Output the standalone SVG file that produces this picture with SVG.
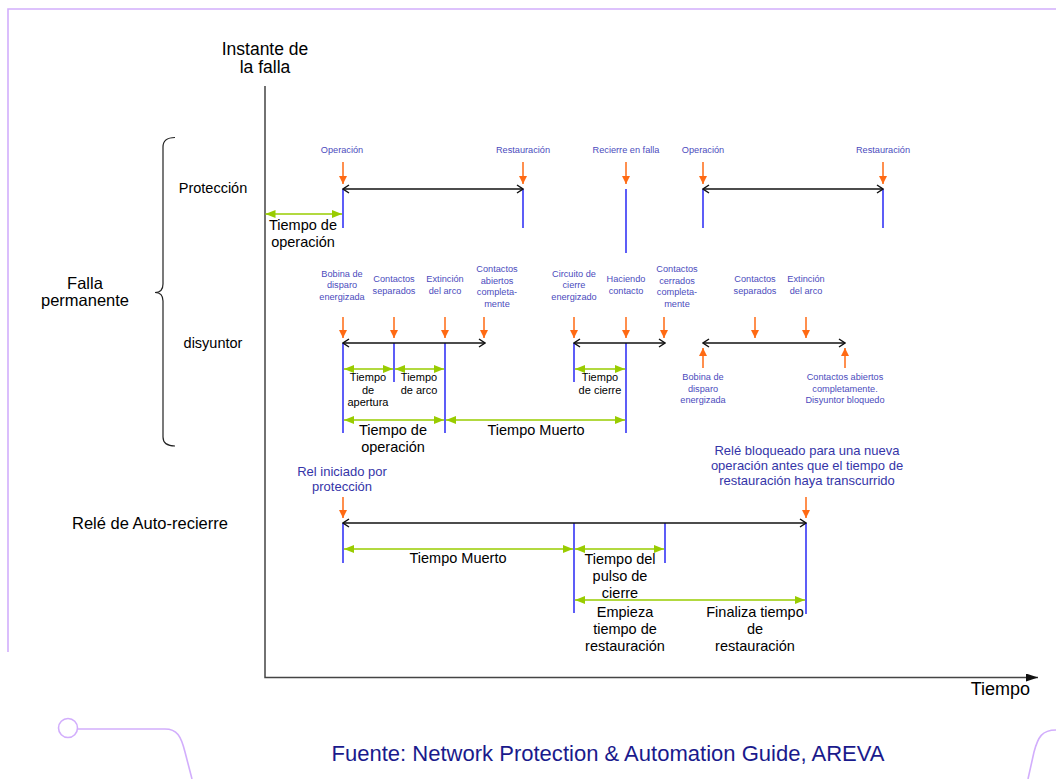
<svg xmlns="http://www.w3.org/2000/svg" width="1056" height="779" viewBox="0 0 1056 779">
  <style>
    text { font-family: "Liberation Sans", Arial, sans-serif; }
    .lbl { font-size: 14.5px; fill: #000; text-anchor: middle; }
    .lbl-s { font-size: 11px; fill: #000; text-anchor: middle; }
    .row { font-size: 14.5px; fill: #000; text-anchor: middle; }
    .ev { font-size: 9.2px; fill: #4b4bbd; text-anchor: middle; }
    .ev-l { font-size: 13px; fill: #3535a8; text-anchor: middle; }
    .mark { stroke: #3535f5; stroke-width: 1.6; fill: none; }
    .span { stroke: #111; stroke-width: 1.5; fill: none; marker-start: url(#ah-open); marker-end: url(#ah-open); }
    .dur { stroke: #99cc00; stroke-width: 1.6; fill: none; marker-start: url(#ah-green); marker-end: url(#ah-green); }
    .trig { stroke: #ff6a13; stroke-width: 1.5; fill: none; marker-end: url(#ah-orange); }
    .frame { stroke: #d2aefc; stroke-width: 1.6; fill: none; }
  </style>
  <defs>
    <marker id="ah-open" viewBox="0 0 8 10" refX="7" refY="5" markerWidth="8" markerHeight="10" markerUnits="userSpaceOnUse" orient="auto-start-reverse">
      <path d="M1,1 L7,5 L1,9" fill="none" stroke="#111" stroke-width="1.5"/>
    </marker>
    <marker id="ah-green" viewBox="0 0 10 8" refX="10" refY="4" markerWidth="10" markerHeight="8" markerUnits="userSpaceOnUse" orient="auto-start-reverse">
      <path d="M0,0 L10,4 L0,8 z" fill="#99cc00"/>
    </marker>
    <marker id="ah-orange" viewBox="0 0 8 8" refX="8" refY="4" markerWidth="8" markerHeight="8" markerUnits="userSpaceOnUse" orient="auto">
      <path d="M0,0 L8,4 L0,8 z" fill="#ff6a13"/>
    </marker>
    <marker id="ah-axis" viewBox="0 0 12 8" refX="12" refY="4" markerWidth="12" markerHeight="8" markerUnits="userSpaceOnUse" orient="auto">
      <path d="M0,0 L12,4 L0,8 z" fill="#111"/>
    </marker>
  </defs>

  <rect width="1056" height="779" fill="#fff"/>

  <!-- page frame and decoration -->
  <g id="frame">
    <path class="frame" d="M1056,9 L8,9 L8,652"/>
    <circle class="frame" cx="68" cy="728" r="9.5"/>
    <path class="frame" d="M77.5,729 L165,729 C177,729 181,736 185,752 L192,779"/>
    <path class="frame" d="M1056,730 C1042,730 1038,737 1034,752 L1028,779"/>
  </g>

  <!-- axes -->
  <g id="axes">
    <path d="M265,86 L265,677.5 L1038,677.5" stroke="#444" stroke-width="1.5" fill="none" marker-end="url(#ah-axis)"/>
    <text x="265" y="55" font-size="17.5" text-anchor="middle">Instante de</text>
    <text x="265" y="73" font-size="17.5" text-anchor="middle">la falla</text>
    <text x="1030" y="695" font-size="18" text-anchor="end">Tiempo</text>
  </g>

  <!-- row titles -->
  <g id="row-labels">
    <path d="M175,137.5 Q163,137.5 163,147 L163,284 Q163,292.5 155,292.5 Q163,292.5 163,301 L163,437 Q163,446 175,446" stroke="#222" stroke-width="1.2" fill="none"/>
    <text x="85" y="289" font-size="16.5" text-anchor="middle">Falla</text>
    <text x="85" y="306" font-size="16.5" text-anchor="middle">permanente</text>
    <text class="row" x="213" y="193">Protección</text>
    <text class="row" x="213" y="348">disyuntor</text>
    <text x="150" y="529" font-size="16.5" text-anchor="middle">Relé de Auto-recierre</text>
  </g>

  <!-- protection row -->
  <g id="proteccion">
    <text class="ev" x="342" y="153">Operación</text>
    <text class="ev" x="523" y="153">Restauración</text>
    <text class="ev" x="626" y="153">Recierre en falla</text>
    <text class="ev" x="703" y="153">Operación</text>
    <text class="ev" x="883" y="153">Restauración</text>
    <text class="lbl" x="303" y="230">Tiempo de</text>
    <text class="lbl" x="303" y="247">operación</text>
  </g>

  <!-- circuit breaker row -->
  <g id="disyuntor">
    <text class="ev" x="342" y="276.5">Bobina de</text>
    <text class="ev" x="342" y="288">disparo</text>
    <text class="ev" x="342" y="299.5">energizada</text>
    <text class="ev" x="394" y="282">Contactos</text>
    <text class="ev" x="394" y="293.5">separados</text>
    <text class="ev" x="445" y="282">Extinción</text>
    <text class="ev" x="445" y="293.5">del arco</text>
    <text class="ev" x="497" y="272">Contactos</text>
    <text class="ev" x="497" y="283.5">abiertos</text>
    <text class="ev" x="497" y="295">completa-</text>
    <text class="ev" x="497" y="306.5">mente</text>

    <text class="ev" x="574" y="276.5">Circuito de</text>
    <text class="ev" x="574" y="288">cierre</text>
    <text class="ev" x="574" y="299.5">energizado</text>
    <text class="ev" x="626" y="282">Haciendo</text>
    <text class="ev" x="626" y="293.5">contacto</text>
    <text class="ev" x="677" y="272">Contactos</text>
    <text class="ev" x="677" y="283.5">cerrados</text>
    <text class="ev" x="677" y="295">completa-</text>
    <text class="ev" x="677" y="306.5">mente</text>

    <text class="ev" x="755" y="282">Contactos</text>
    <text class="ev" x="755" y="293.5">separados</text>
    <text class="ev" x="806" y="282">Extinción</text>
    <text class="ev" x="806" y="293.5">del arco</text>

    <text class="ev" x="703" y="380">Bobina de</text>
    <text class="ev" x="703" y="391.5">disparo</text>
    <text class="ev" x="703" y="403">energizada</text>
    <text class="ev" x="845" y="380">Contactos abiertos</text>
    <text class="ev" x="845" y="391.5">completamente.</text>
    <text class="ev" x="845" y="403">Disyuntor bloquedo</text>

    <text class="lbl-s" x="368" y="381">Tiempo</text>
    <text class="lbl-s" x="368" y="393.5">de</text>
    <text class="lbl-s" x="368" y="406">apertura</text>
    <text class="lbl-s" x="419" y="381">Tiempo</text>
    <text class="lbl-s" x="419" y="393.5">de arco</text>
    <text class="lbl-s" x="600" y="381">Tiempo</text>
    <text class="lbl-s" x="600" y="393.5">de cierre</text>

    <text class="lbl" x="393" y="435">Tiempo de</text>
    <text class="lbl" x="393" y="452">operación</text>
    <text class="lbl" x="536" y="435">Tiempo Muerto</text>
  </g>

  <!-- auto-reclose relay row -->
  <g id="rele">
    <text class="ev-l" x="342" y="476">Rel iniciado por</text>
    <text class="ev-l" x="342" y="490.5">protección</text>
    <text class="ev-l" x="807" y="455">Relé bloqueado para una nueva</text>
    <text class="ev-l" x="807" y="470">operación antes que el tiempo de</text>
    <text class="ev-l" x="807" y="485">restauración haya transcurrido</text>

    <text class="lbl" x="458" y="563">Tiempo Muerto</text>
    <text class="lbl" x="620" y="564">Tiempo del</text>
    <text class="lbl" x="620" y="581">pulso de</text>
    <text class="lbl" x="620" y="598">cierre</text>
    <text class="lbl" x="625" y="616.5">Empieza</text>
    <text class="lbl" x="625" y="633.5">tiempo de</text>
    <text class="lbl" x="625" y="650.5">restauración</text>
    <text class="lbl" x="755" y="616.5">Finaliza tiempo</text>
    <text class="lbl" x="755" y="633.5">de</text>
    <text class="lbl" x="755" y="650.5">restauración</text>
  </g>

  <!-- connectors: event markers, spans, durations and triggers -->
  <g id="connectors">
    <!-- blue event markers -->
    <line class="mark" x1="343" y1="189" x2="343" y2="228"/>
    <line class="mark" x1="523" y1="189" x2="523" y2="228"/>
    <line class="mark" x1="626" y1="189" x2="626" y2="253"/>
    <line class="mark" x1="703" y1="189" x2="703" y2="228"/>
    <line class="mark" x1="883" y1="189" x2="883" y2="228"/>

    <line class="mark" x1="343" y1="343" x2="343" y2="433"/>
    <line class="mark" x1="394" y1="343" x2="394" y2="382"/>
    <line class="mark" x1="445" y1="343" x2="445" y2="433"/>
    <line class="mark" x1="574" y1="343" x2="574" y2="382"/>
    <line class="mark" x1="626" y1="343" x2="626" y2="433"/>

    <line class="mark" x1="343" y1="523" x2="343" y2="563"/>
    <line class="mark" x1="574" y1="523" x2="574" y2="613"/>
    <line class="mark" x1="665" y1="523" x2="665" y2="563"/>
    <line class="mark" x1="806" y1="523" x2="806" y2="614"/>

    <!-- black spans -->
    <line class="span" x1="343" y1="189" x2="523" y2="189"/>
    <line class="span" x1="703" y1="189" x2="883" y2="189"/>
    <line class="span" x1="343" y1="343" x2="485" y2="343"/>
    <line class="span" x1="574" y1="343" x2="665" y2="343"/>
    <line class="span" x1="703" y1="343" x2="845" y2="343"/>
    <line class="span" x1="343" y1="523" x2="806" y2="523"/>

    <!-- green durations -->
    <line class="dur" x1="265.5" y1="214" x2="342" y2="214"/>
    <line class="dur" x1="344" y1="369" x2="393" y2="369"/>
    <line class="dur" x1="395" y1="369" x2="444" y2="369"/>
    <line class="dur" x1="575" y1="369" x2="625" y2="369"/>
    <line class="dur" x1="344" y1="420" x2="444" y2="420"/>
    <line class="dur" x1="446" y1="420" x2="625" y2="420"/>
    <line class="dur" x1="344" y1="549" x2="573" y2="549"/>
    <line class="dur" x1="575" y1="549" x2="664" y2="549"/>
    <line class="dur" x1="575" y1="600" x2="805" y2="600"/>

    <!-- orange triggers -->
    <line class="trig" x1="343" y1="162" x2="343" y2="184"/>
    <line class="trig" x1="523" y1="162" x2="523" y2="184"/>
    <line class="trig" x1="626" y1="162" x2="626" y2="184"/>
    <line class="trig" x1="703" y1="162" x2="703" y2="184"/>
    <line class="trig" x1="883" y1="162" x2="883" y2="184"/>

    <line class="trig" x1="343" y1="317" x2="343" y2="338"/>
    <line class="trig" x1="394" y1="317" x2="394" y2="338"/>
    <line class="trig" x1="445" y1="317" x2="445" y2="338"/>
    <line class="trig" x1="484" y1="317" x2="484" y2="338"/>
    <line class="trig" x1="574" y1="317" x2="574" y2="338"/>
    <line class="trig" x1="626" y1="317" x2="626" y2="338"/>
    <line class="trig" x1="664" y1="317" x2="664" y2="338"/>
    <line class="trig" x1="755" y1="317" x2="755" y2="338"/>
    <line class="trig" x1="806" y1="317" x2="806" y2="338"/>
    <line class="trig" x1="703" y1="368" x2="703" y2="348"/>
    <line class="trig" x1="845" y1="368" x2="845" y2="348"/>

    <line class="trig" x1="343" y1="497" x2="343" y2="518"/>
    <line class="trig" x1="806" y1="497" x2="806" y2="518"/>
  </g>

  <!-- source note -->
  <g id="fuente">
    <text x="608" y="761" font-size="21.5" fill="#1a1a8c" text-anchor="middle" textLength="553" lengthAdjust="spacingAndGlyphs">Fuente: Network Protection &amp; Automation Guide, AREVA</text>
  </g>
</svg>
